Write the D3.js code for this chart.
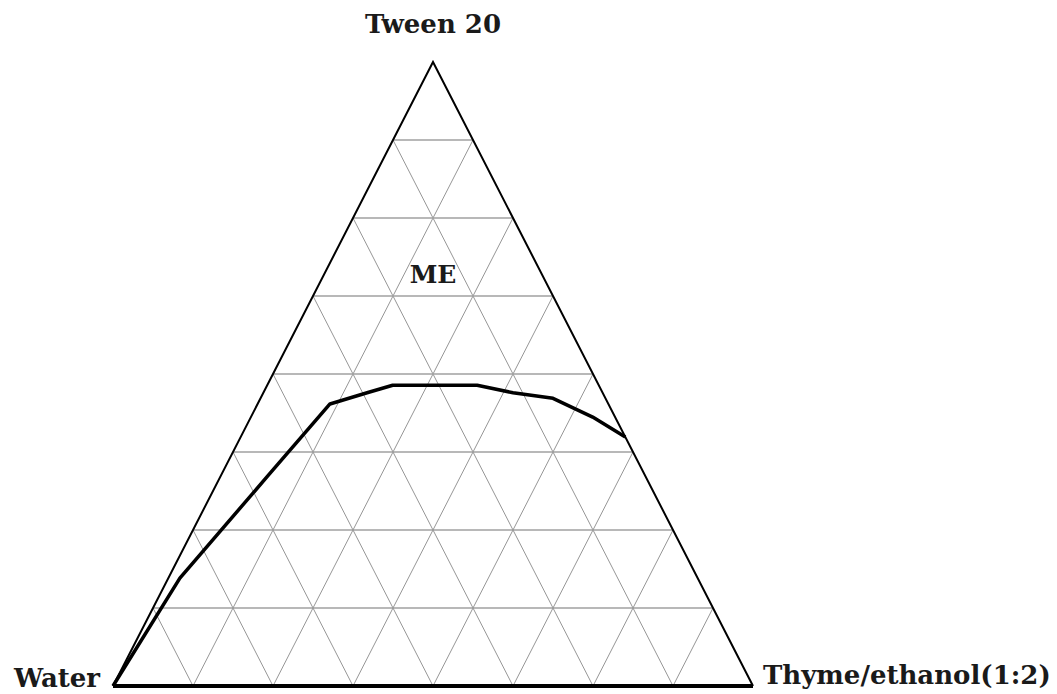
<!DOCTYPE html>
<html>
<head>
<meta charset="utf-8">
<script src="https://cdn.jsdelivr.net/npm/d3@7"></script>
<style>
  html, body { margin: 0; padding: 0; background: #fff; }
  svg { display: block; }
  .lbl { font-family: "DejaVu Serif", serif; font-weight: bold; fill: #1a1a1a; }
</style>
</head>
<body>
<svg id="chart" width="1057" height="694"></svg>
<script>
// Corner labels of the pseudo-ternary phase diagram
const vertexLabels = ["Water", "Tween 20", "Thyme/ethanol(1:2)"];
const regionLabel = "ME";

// Number of grid divisions along each side
const divisions = 8;

// Phase boundary, as percentages of each component
const boundaryWater = [100, 80.9, 59.2, 43.5, 36.8, 32.2, 19.0, 14.0, 8.2, 3.5, 0];
const boundaryTween = [0, 17.3, 33.5, 45.2, 47.0, 48.2, 48.2, 47.0, 46.1, 43.1, 39.9];
const boundaryThyme = [0, 1.8, 7.3, 11.3, 16.2, 19.6, 32.8, 39.0, 45.7, 53.4, 60.1];

const svg = d3.select("#chart");

// Ternary projection: horizontal position from thyme + tween/2, vertical from tween
const xScale = d3.scaleLinear().domain([0, 1]).range([113, 753]);
const yScale = d3.scaleLinear().domain([0, 1]).range([686, 62]);
const project = (water, tween, thyme) => {
  const s = water + tween + thyme;
  const t = tween / s, h = thyme / s;
  return [xScale(h + t / 2), yScale(t)];
};

const line = d3.line();
const gGrid = svg.append("g");

// Grid lines for each component level
for (let i = 1; i < divisions; i++) {
  const f = i / divisions;
  // constant tween (horizontal)
  gGrid.append("path")
    .attr("d", line([project(1 - f, f, 0), project(0, f, 1 - f)]))
    .attr("stroke", "#a0a0a0").attr("stroke-width", 1.6).attr("fill", "none");
  // constant thyme (parallel to the left side)
  gGrid.append("path")
    .attr("d", line([project(1 - f, 0, f), project(0, 1 - f, f)]))
    .attr("stroke", "#969696").attr("stroke-width", 1).attr("fill", "none");
  // constant water (parallel to the right side)
  gGrid.append("path")
    .attr("d", line([project(f, 0, 1 - f), project(f, 1 - f, 0)]))
    .attr("stroke", "#969696").attr("stroke-width", 1).attr("fill", "none");
}

// Triangle outline
const W = project(1, 0, 0), A = project(0, 1, 0), T = project(0, 0, 1);
svg.append("path").attr("d", line([W, A, T]))
  .attr("stroke", "#000").attr("stroke-width", 2).attr("fill", "none")
  .attr("stroke-linejoin", "miter");
svg.append("path").attr("d", line([W, T]))
  .attr("stroke", "#000").attr("stroke-width", 4).attr("fill", "none");

// Microemulsion boundary
const boundary = boundaryWater.map((w, i) => project(w, boundaryTween[i], boundaryThyme[i]));
svg.append("path").attr("d", line(boundary))
  .attr("stroke", "#000").attr("stroke-width", 3.5).attr("fill", "none")
  .attr("stroke-linejoin", "round");

// Labels
svg.append("text").attr("class", "lbl").attr("font-size", 26)
  .attr("x", W[0] - 13).attr("y", 687).attr("text-anchor", "end").text(vertexLabels[0]);
svg.append("text").attr("class", "lbl").attr("font-size", 26)
  .attr("x", A[0]).attr("y", 33).attr("text-anchor", "middle").text(vertexLabels[1]);
svg.append("text").attr("class", "lbl").attr("font-size", 26)
  .attr("x", T[0] + 10).attr("y", 684).attr("text-anchor", "start").text(vertexLabels[2]);
svg.append("text").attr("class", "lbl").attr("font-size", 25)
  .attr("x", xScale(0.5)).attr("y", 283).attr("text-anchor", "middle").text(regionLabel);
</script>
</body>
</html>
